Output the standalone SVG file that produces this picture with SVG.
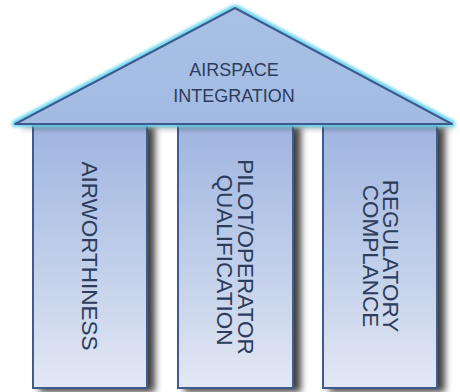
<svg xmlns="http://www.w3.org/2000/svg" width="460" height="392" viewBox="0 0 460 392">
<defs>
<linearGradient id="pg" x1="0" y1="0" x2="0" y2="1">
<stop offset="0" stop-color="#9fb5e0"/>
<stop offset="0.55" stop-color="#c2d0ea"/>
<stop offset="1" stop-color="#e3e8f4"/>
</linearGradient>
<linearGradient id="rg" x1="0" y1="0" x2="0" y2="1">
<stop offset="0" stop-color="#a9c0e6"/>
<stop offset="1" stop-color="#a3bbe2"/>
</linearGradient>
<filter id="sh" x="-20%" y="-10%" width="150%" height="120%">
<feGaussianBlur in="SourceAlpha" stdDeviation="3.5"/>
<feOffset dx="7" dy="3" result="b"/>
<feComponentTransfer><feFuncA type="linear" slope="0.75"/></feComponentTransfer>
<feMerge><feMergeNode/><feMergeNode in="SourceGraphic"/></feMerge>
</filter>
<filter id="glow" x="-10%" y="-20%" width="120%" height="150%">
<feGaussianBlur in="SourceAlpha" stdDeviation="3"/>
<feOffset dx="4" dy="4"/>
<feComponentTransfer><feFuncA type="linear" slope="0.4"/></feComponentTransfer>
<feMerge><feMergeNode/></feMerge>
</filter>
<filter id="cy" x="-10%" y="-20%" width="120%" height="140%">
<feMorphology in="SourceAlpha" operator="dilate" radius="1.5" result="d"/>
<feGaussianBlur in="d" stdDeviation="1.5" result="g"/>
<feFlood flood-color="#6fd6ee"/>
<feComposite in2="g" operator="in" result="c"/>
<feMerge><feMergeNode in="c"/><feMergeNode in="SourceGraphic"/></feMerge>
</filter>
</defs>
<style>
.pillar{fill:url(#pg);stroke:#3f5b8e;stroke-width:2;filter:url(#sh)}
.t{font-family:"Liberation Sans",Arial,sans-serif;fill:#2c3c5c}
.h{font-size:18px;text-anchor:middle}
.v{font-size:22.5px;text-anchor:middle}
</style>
<g id="pillar-airworthiness">
<rect class="pillar" x="33" y="125" width="114" height="263"/>
<text class="t v" transform="translate(82,256) rotate(90)">AIRWORTHINESS</text>
</g>
<g id="pillar-pilot">
<rect class="pillar" x="178" y="125" width="115" height="263"/>
<text class="t v" transform="translate(238,257) rotate(90)">PILOT/OPERATOR</text>
<text class="t v" transform="translate(217,260) rotate(90)">QUALIFICATION</text>
</g>
<g id="pillar-regulatory">
<rect class="pillar" x="323" y="125" width="114" height="263"/>
<text class="t v" transform="translate(383,256) rotate(90)">REGULATORY</text>
<text class="t v" transform="translate(363,256) rotate(90)">COMPLANCE</text>
</g>
<g id="roof">
<polygon points="235,8 452,124 15,124" fill="#000" filter="url(#glow)"/>
<polygon points="235,8 452,124 15,124" fill="url(#rg)" stroke="#3a5a8e" stroke-width="2" stroke-linejoin="round" filter="url(#cy)"/>
<text class="t h" x="234" y="76">AIRSPACE</text>
<text class="t h" x="234" y="102">INTEGRATION</text>
</g>
<g id="connectors"/>
</svg>
